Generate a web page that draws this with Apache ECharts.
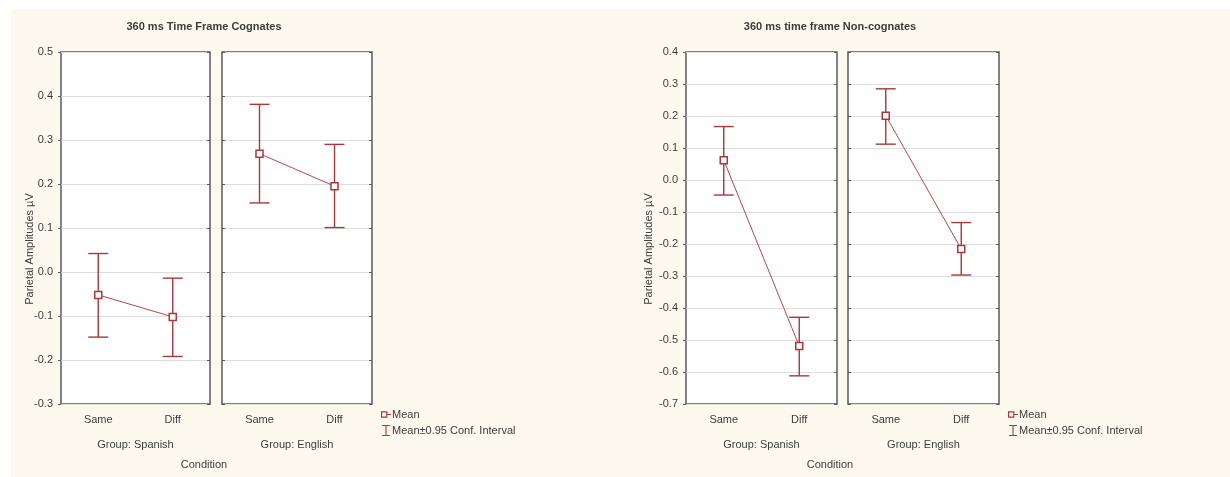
<!DOCTYPE html>
<html>
<head>
<meta charset="utf-8">
<style>
  html, body { margin: 0; padding: 0; background: #fff; }
  #bg { position: absolute; left: 11px; top: 9px; width: 1219px; height: 468px; background: #fef9ef; }
  #main { position: absolute; left: 0; top: 0; width: 1230px; height: 477px; }
</style>
<script src="https://cdn.jsdelivr.net/npm/echarts@6/dist/echarts.min.js"></script>
</head>
<body>
<div id="bg"></div>
<div id="main"></div>
<script>
const categories = ['Same', 'Diff']
const groups = ['Group: Spanish', 'Group: English', 'Group: Spanish', 'Group: English']

// cognates (left chart)
const cogSpanishMean = [-0.052, -0.102]
const cogSpanishLow = [-0.148, -0.192]
const cogSpanishHigh = [0.042, -0.014]
const cogEnglishMean = [0.269, 0.195]
const cogEnglishLow = [0.157, 0.101]
const cogEnglishHigh = [0.381, 0.290]

// non-cognates (right chart)
const nonSpanishMean = [0.062, -0.519]
const nonSpanishLow = [-0.047, -0.612]
const nonSpanishHigh = [0.167, -0.429]
const nonEnglishMean = [0.201, -0.216]
const nonEnglishLow = [0.112, -0.297]
const nonEnglishHigh = [0.285, -0.133]

const titles = ['360 ms Time Frame Cognates', '360 ms time frame Non-cognates']
const yName = 'Parietal Amplitudes µV'
const xName = 'Condition'
const meanName = 'Mean'
const ciName = 'Mean±0.95 Conf. Interval'

const red = '#a8383c'
const txt = '#3c3c3c'
const font = '"Liberation Sans", Arial, sans-serif'

const panels = [
  { left: 61, width: 149, min: -0.3, max: 0.5, mean: cogSpanishMean, lo: cogSpanishLow, hi: cogSpanishHigh, labels: true },
  { left: 222, width: 150, min: -0.3, max: 0.5, mean: cogEnglishMean, lo: cogEnglishLow, hi: cogEnglishHigh, labels: false },
  { left: 686, width: 151, min: -0.7, max: 0.4, mean: nonSpanishMean, lo: nonSpanishLow, hi: nonSpanishHigh, labels: true },
  { left: 848, width: 151, min: -0.7, max: 0.4, mean: nonEnglishMean, lo: nonEnglishLow, hi: nonEnglishHigh, labels: false }
]

const grid = panels.map(p => ({
  left: p.left, top: 52, width: p.width, height: 352,
  show: true, backgroundColor: '#fff', borderColor: '#5a5a5a', borderWidth: 1.5
}))

const xAxis = []
const yAxis = []
panels.forEach((p, i) => {
  xAxis.push({
    type: 'category', gridIndex: i, data: categories, position: 'bottom',
    name: groups[i], nameLocation: 'middle', nameGap: 35,
    nameTextStyle: { color: txt, fontSize: 11, fontFamily: font },
    axisLine: { show: false },
    axisTick: { inside: true, length: 3, alignWithLabel: true, lineStyle: { color: '#5a5a5a' } },
    axisLabel: { color: txt, fontSize: 11, fontFamily: font, margin: 10 }
  })
  xAxis.push({
    type: 'category', gridIndex: i, data: categories, position: 'top',
    axisLine: { show: false },
    axisTick: { inside: true, length: 3, alignWithLabel: true, lineStyle: { color: '#5a5a5a' } },
    axisLabel: { show: false }
  })
  yAxis.push({
    type: 'value', gridIndex: i, min: p.min, max: p.max, interval: 0.1, position: 'left',
    axisLine: { show: false },
    axisTick: { show: true, inside: !p.labels, length: 3, lineStyle: { color: '#5a5a5a' } },
    axisLabel: { show: p.labels, color: txt, fontSize: 11, fontFamily: font, margin: 8,
      formatter: v => v.toFixed(1) },
    splitLine: { show: true, lineStyle: { color: '#dedede', width: 1 } }
  })
  yAxis.push({
    type: 'value', gridIndex: i, min: p.min, max: p.max, interval: 0.1, position: 'right',
    axisLine: { show: false },
    axisTick: { show: true, inside: true, length: 3, lineStyle: { color: '#5a5a5a' } },
    axisLabel: { show: false },
    splitLine: { show: false }
  })
})

function renderCI (params, api) {
  const x = api.value(0)
  const lo = api.coord([x, api.value(1)])
  const hi = api.coord([x, api.value(2)])
  const half = 10
  const style = { stroke: red, lineWidth: 1.4 }
  return {
    type: 'group',
    children: [
      { type: 'line', shape: { x1: hi[0], y1: hi[1], x2: lo[0], y2: lo[1] }, style },
      { type: 'line', shape: { x1: hi[0] - half, y1: hi[1], x2: hi[0] + half, y2: hi[1] }, style },
      { type: 'line', shape: { x1: lo[0] - half, y1: lo[1], x2: lo[0] + half, y2: lo[1] }, style }
    ]
  }
}

const series = []
panels.forEach((p, i) => {
  series.push({
    name: ciName, type: 'custom', xAxisIndex: i * 2, yAxisIndex: i * 2, z: 2,
    itemStyle: { color: red },
    renderItem: renderCI,
    encode: { x: 0, y: [1, 2] },
    data: categories.map((c, k) => [k, p.lo[k], p.hi[k]])
  })
  series.push({
    name: meanName, type: 'line', xAxisIndex: i * 2, yAxisIndex: i * 2, z: 3,
    symbol: 'rect', symbolSize: 7,
    itemStyle: { color: '#fff', borderColor: red, borderWidth: 1.5 },
    lineStyle: { color: '#b5484c', width: 1 },
    data: p.mean
  })
})

const meanIcon = 'path://M0,0H7V7H0Z M1.3,1.3V5.7H5.7V1.3Z M7,3H11V4H7Z'
const ciIcon = 'path://M0,0H10V1.4H5.7V12.6H10V14H0V12.6H4.3V1.4H0Z'
const legendBase = {
  orient: 'vertical', top: 404, itemGap: 5, itemWidth: 10, itemHeight: 11,
  textStyle: { color: txt, fontSize: 11, fontFamily: font, padding: [0, 0, 0, -4] },
  selectedMode: false,
  data: [
    { name: meanName, icon: meanIcon, itemStyle: { color: red, borderWidth: 0 } },
    { name: ciName, icon: ciIcon, itemStyle: { color: red, borderWidth: 0 } }
  ]
}

const textStyle = { fill: txt, fontFamily: font, fontSize: 11 }
const graphic = [
  { type: 'text', x: 204, y: 27, style: { ...textStyle, text: titles[0], fontWeight: 'bold', align: 'center', verticalAlign: 'middle' } },
  { type: 'text', x: 830, y: 27, style: { ...textStyle, text: titles[1], fontWeight: 'bold', align: 'center', verticalAlign: 'middle' } },
  { type: 'text', x: 30, y: 249, rotation: Math.PI / 2, style: { ...textStyle, text: yName, align: 'center', verticalAlign: 'middle' } },
  { type: 'text', x: 649, y: 249, rotation: Math.PI / 2, style: { ...textStyle, text: yName, align: 'center', verticalAlign: 'middle' } },
  { type: 'text', x: 204, y: 465, style: { ...textStyle, text: xName, align: 'center', verticalAlign: 'middle' } },
  { type: 'text', x: 830, y: 465, style: { ...textStyle, text: xName, align: 'center', verticalAlign: 'middle' } }
]

const chart = echarts.init(document.getElementById('main'))
chart.setOption({
  backgroundColor: 'transparent',
  animation: false,
  grid,
  xAxis,
  yAxis,
  legend: [
    { ...legendBase, left: 376 },
    { ...legendBase, left: 1003 }
  ],
  graphic,
  series
})
</script>
</body>
</html>
